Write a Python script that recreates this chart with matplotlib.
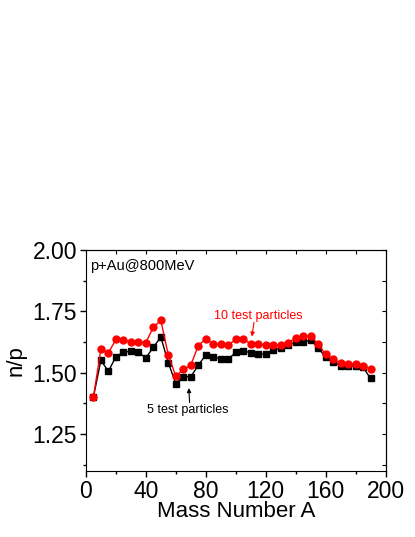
import matplotlib
matplotlib.use("Agg")
import matplotlib.pyplot as plt
from matplotlib.ticker import MultipleLocator

plt.rcParams['font.family'] = ['Liberation Sans', 'DejaVu Sans']

mass = [5, 10, 15, 20, 25, 30, 35, 40, 45, 50, 55, 60, 65, 70, 75, 80, 85, 90, 95,
        100, 105, 110, 115, 120, 125, 130, 135, 140, 145, 150, 155, 160, 165, 170,
        175, 180, 185, 190]
np10 = [1.400, 1.595, 1.580, 1.635, 1.632, 1.625, 1.625, 1.622, 1.685, 1.713, 1.572,
        1.485, 1.513, 1.530, 1.610, 1.638, 1.615, 1.615, 1.612, 1.635, 1.635, 1.618,
        1.618, 1.612, 1.612, 1.614, 1.622, 1.640, 1.648, 1.650, 1.615, 1.575, 1.555,
        1.538, 1.535, 1.535, 1.528, 1.515]
np5 = [1.400, 1.550, 1.505, 1.565, 1.583, 1.587, 1.583, 1.560, 1.603, 1.645, 1.540,
       1.455, 1.483, 1.483, 1.530, 1.572, 1.565, 1.555, 1.555, 1.582, 1.590, 1.580,
       1.576, 1.576, 1.592, 1.600, 1.612, 1.625, 1.625, 1.632, 1.602, 1.562, 1.545,
       1.528, 1.527, 1.527, 1.522, 1.476]

fig = plt.figure(figsize=(4.15, 5.37), dpi=100)
ax = fig.add_axes([0.207, 0.1235, 0.722, 0.411])

ax.plot(mass, np5, color='black', marker='s', markersize=4.3, linewidth=1, zorder=2)
ax.plot(mass, np10, color='red', marker='o', markersize=5, linewidth=1, zorder=3)

ax.set_xlim(0, 200)
ax.set_ylim(1.10, 2.00)
ax.xaxis.set_major_locator(MultipleLocator(40))
ax.xaxis.set_minor_locator(MultipleLocator(20))
ax.set_yticks([1.25, 1.50, 1.75, 2.00])
ax.set_yticklabels(['1.25', '1.50', '1.75', '2.00'])
ax.yaxis.set_minor_locator(MultipleLocator(0.125))

ax.tick_params(which='both', direction='out', labelsize=16.5, width=1)
ax.tick_params(which='major', length=4.5, pad=2)
ax.tick_params(which='minor', length=2.5)

# inward ticks on top and right
axt = ax.secondary_xaxis('top')
axt.xaxis.set_major_locator(MultipleLocator(20))
axt.tick_params(direction='in', length=3)
axt.set_xticklabels([])
axr = ax.secondary_yaxis('right')
axr.yaxis.set_major_locator(MultipleLocator(0.125))
axr.tick_params(direction='in', length=3)
axr.set_yticklabels([])

ax.set_xlabel('Mass Number A', fontsize=16, labelpad=-1)
ax.set_ylabel('n/p', fontsize=16, labelpad=4)

ax.text(2.7, 1.935, 'p+Au@800MeV', fontsize=10.5, ha='left', va='center')

ax.text(114.8, 1.732, '10 test particles', color='red', fontsize=9,
        ha='center', va='center')
ax.annotate('', xy=(110.8, 1.647), xytext=(112.2, 1.705),
            arrowprops=dict(arrowstyle='-|>', color='red', lw=0.8,
                            shrinkA=0, shrinkB=0, mutation_scale=6))
ax.text(68, 1.347, '5 test particles', color='black', fontsize=9,
        ha='center', va='center')
ax.annotate('', xy=(68.7, 1.437), xytext=(69.2, 1.378),
            arrowprops=dict(arrowstyle='-|>', color='black', lw=0.8,
                            shrinkA=0, shrinkB=0, mutation_scale=6))

fig.savefig('out.png', dpi=100)
